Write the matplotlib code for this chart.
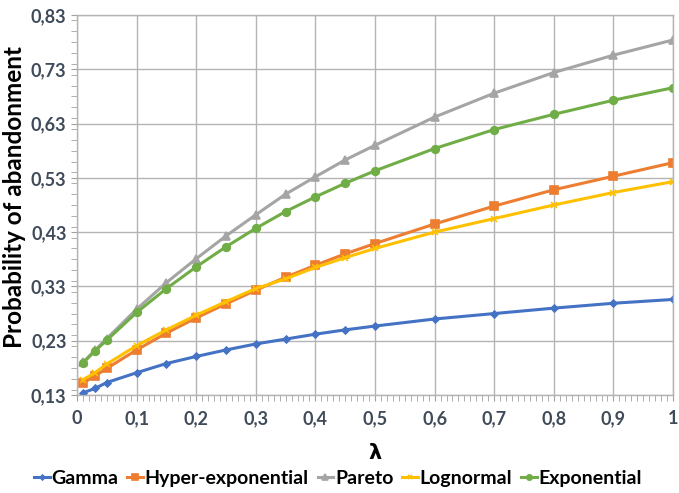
import numpy as np
import matplotlib
matplotlib.use('Agg')
import matplotlib.pyplot as plt
from matplotlib.ticker import MultipleLocator, FuncFormatter

# Значения
lam = [0.01, 0.03, 0.05, 0.1, 0.15, 0.2, 0.25, 0.3, 0.35, 0.4, 0.45, 0.5,
       0.6, 0.7, 0.8, 0.9, 1.0]
gamma = [0.134, 0.142, 0.153, 0.171, 0.188, 0.201, 0.213, 0.224, 0.233, 0.242,
         0.250, 0.257, 0.270, 0.280, 0.290, 0.299, 0.306]
hyper_exp = [0.152, 0.165, 0.179, 0.213, 0.244, 0.272, 0.298, 0.323, 0.347,
             0.369, 0.390, 0.409, 0.445, 0.478, 0.508, 0.533, 0.558]
pareto = [0.190, 0.212, 0.234, 0.288, 0.337, 0.381, 0.423, 0.462, 0.500,
          0.532, 0.563, 0.590, 0.642, 0.686, 0.724, 0.756, 0.784]
lognormal = [0.158, 0.171, 0.187, 0.221, 0.250, 0.277, 0.302, 0.326, 0.344,
             0.365, 0.383, 0.400, 0.430, 0.455, 0.480, 0.503, 0.523]
exponential = [0.189, 0.211, 0.231, 0.282, 0.326, 0.366, 0.403, 0.437, 0.468,
               0.495, 0.520, 0.543, 0.584, 0.619, 0.647, 0.673, 0.696]

labels = ['Gamma', 'Hyper-exponential', 'Pareto', 'Lognormal', 'Exponential']
series = [gamma, hyper_exp, pareto, lognormal, exponential]
colors = ['#4472C4', '#ED7D31', '#A5A5A5', '#FFC000', '#70AD47']
markers = ['D', 's', '^', 'x', 'o']
msizes = [3.5, 5.5, 5.5, 4, 5.5]

plt.rcParams['font.family'] = ['Lato', 'DejaVu Sans']

fig = plt.figure(figsize=(6.79, 4.93), dpi=100)
# правый край чуть левее, чтобы подпись "1" не обрезалась
ax = fig.add_axes([0.1134, 0.1988, 0.8778, 0.7708])

for ys, lab, c, m, ms in zip(series, labels, colors, markers, msizes):
    ax.plot(lam, ys, color=c, lw=2.2, marker=m, ms=ms, mew=1.2,
            mec=c, mfc=c, label=lab)

ax.set_xlim(0, 1)
ax.set_ylim(0.13, 0.83)
ax.xaxis.set_major_locator(MultipleLocator(0.1))
ax.xaxis.set_minor_locator(MultipleLocator(0.01))
ax.yaxis.set_minor_locator(MultipleLocator(0.02))
ax.set_yticks(np.arange(0.13, 0.831, 0.1))


def fmt_x(v, pos):
    if abs(v) < 1e-9:
        return '0'
    if abs(v - 1) < 1e-9:
        return '1'
    return f'{v:.1f}'.replace('.', ',')


ax.xaxis.set_major_formatter(FuncFormatter(fmt_x))
ax.yaxis.set_major_formatter(FuncFormatter(lambda v, p: f'{v:.2f}'.replace('.', ',')))

ax.grid(True, which='major', color='#B4B4B4', lw=1)
ax.set_axisbelow(True)
for s in ax.spines.values():
    s.set_color('#B4B4B4')
    s.set_linewidth(1)
ax.tick_params(which='both', direction='out', color='#A0A0A0', length=4,
               labelsize=13, labelcolor='#404B5A')
ax.tick_params(axis='x', pad=7)
for t in ax.get_xticklabels() + ax.get_yticklabels():
    t.set_fontweight('bold')

ax.set_xlabel('λ', fontsize=15, fontweight='bold', family=['DejaVu Sans'])
ax.xaxis.set_label_coords(0.5, -0.126)
ax.set_ylabel('Probability of abandonment', fontsize=17.5, fontweight='bold')
ax.yaxis.set_label_coords(-0.085, 0.521)

fig.legend(*ax.get_legend_handles_labels(), loc='center',
           bbox_to_anchor=(0.498, 0.03), ncol=5, frameon=False,
           handlelength=0.8, handletextpad=0.1, columnspacing=0.45,
           prop={'size': 14, 'weight': 'bold'}, markerscale=0.7)

plt.savefig('out.png', dpi=100)
